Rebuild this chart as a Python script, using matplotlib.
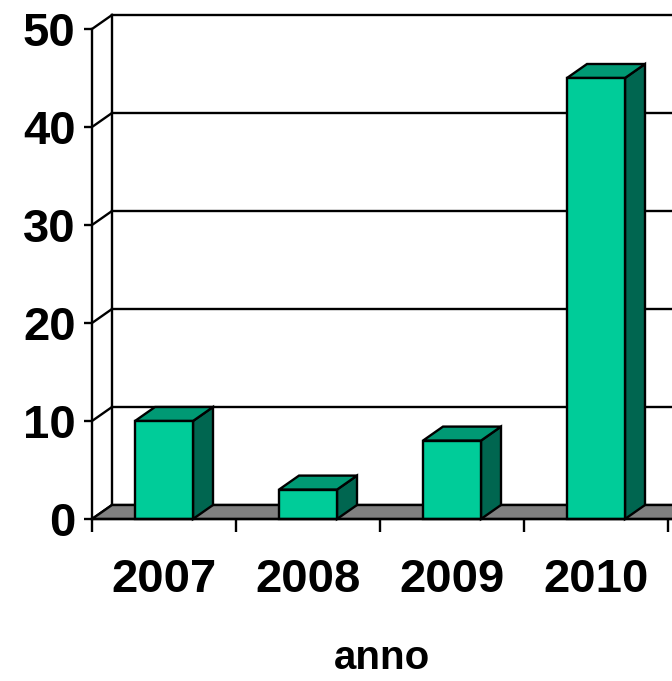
import matplotlib.pyplot as plt
from matplotlib.patches import Polygon

# dati
anni = ['2007', '2008', '2009', '2010']
valori = [10, 3, 8, 45]
y_ticks = [0, 10, 20, 30, 40, 50]

plt.rcParams['font.family'] = ['Liberation Sans', 'DejaVu Sans']

fig = plt.figure(figsize=(6.72, 6.81), dpi=100)
ax = fig.add_axes([92 / 672, 162 / 681, 580 / 672, 490 / 681])

xmax = 580 / 144
ax.set_xlim(0, xmax)
ax.set_ylim(0, 50)

# profondita' 3D (in unita' dati)
dx = 20 / 144
dy = 14 / 9.8
lw = 1.7

col_front = '#00CC99'
col_top = '#009974'
col_side = '#006650'

# parete di fondo: griglia
for v in y_ticks:
    ax.plot([dx, xmax + 1], [v + dy, v + dy], color='black', lw=lw, clip_on=False, zorder=1)
    ax.plot([0, dx], [v, v + dy], color='black', lw=lw, clip_on=False, zorder=1)
ax.plot([dx, dx], [dy, 50 + dy], color='black', lw=lw, clip_on=False, zorder=1)

# pavimento
floor = Polygon([(0, 0), (xmax + 1, 0), (xmax + 1 + dx, dy), (dx, dy)],
                closed=True, facecolor='#808080', edgecolor='black', lw=lw,
                clip_on=False, zorder=2)
ax.add_patch(floor)

# barre 3D
w = 29 / 144
for i, h in enumerate(valori):
    c = i + 0.5
    front = [(c - w, 0), (c + w, 0), (c + w, h), (c - w, h)]
    top = [(c - w, h), (c + w, h), (c + w + dx, h + dy), (c - w + dx, h + dy)]
    side = [(c + w, 0), (c + w + dx, dy), (c + w + dx, h + dy), (c + w, h)]
    for pts, col in [(side, col_side), (top, col_top), (front, col_front)]:
        ax.add_patch(Polygon(pts, closed=True, facecolor=col, edgecolor='black',
                             lw=lw, joinstyle='miter', clip_on=False, zorder=3))

# assi
for s in ['top', 'right']:
    ax.spines[s].set_visible(False)
ax.spines['left'].set_linewidth(lw)
ax.spines['bottom'].set_linewidth(lw)
ax.spines['left'].set_zorder(4)
ax.spines['bottom'].set_zorder(4)

ax.set_yticks(y_ticks)
ax.set_yticklabels([str(v) for v in y_ticks], fontsize=34, fontweight='bold')
ax.tick_params(axis='y', length=5.8, width=lw, pad=6)

ax.set_xticks([0, 1, 2, 3, 4])
ax.set_xticklabels([])
ax.tick_params(axis='x', which='major', length=9, width=lw)
ax.set_xticks([0.5, 1.5, 2.5, 3.5], minor=True)
ax.set_xticklabels(anni, minor=True, fontsize=34, fontweight='bold')
ax.tick_params(axis='x', which='minor', length=0, pad=28)

ax.set_xlabel('anno', fontsize=29, fontweight='bold', labelpad=27)

fig.savefig('out.png', dpi=100)
